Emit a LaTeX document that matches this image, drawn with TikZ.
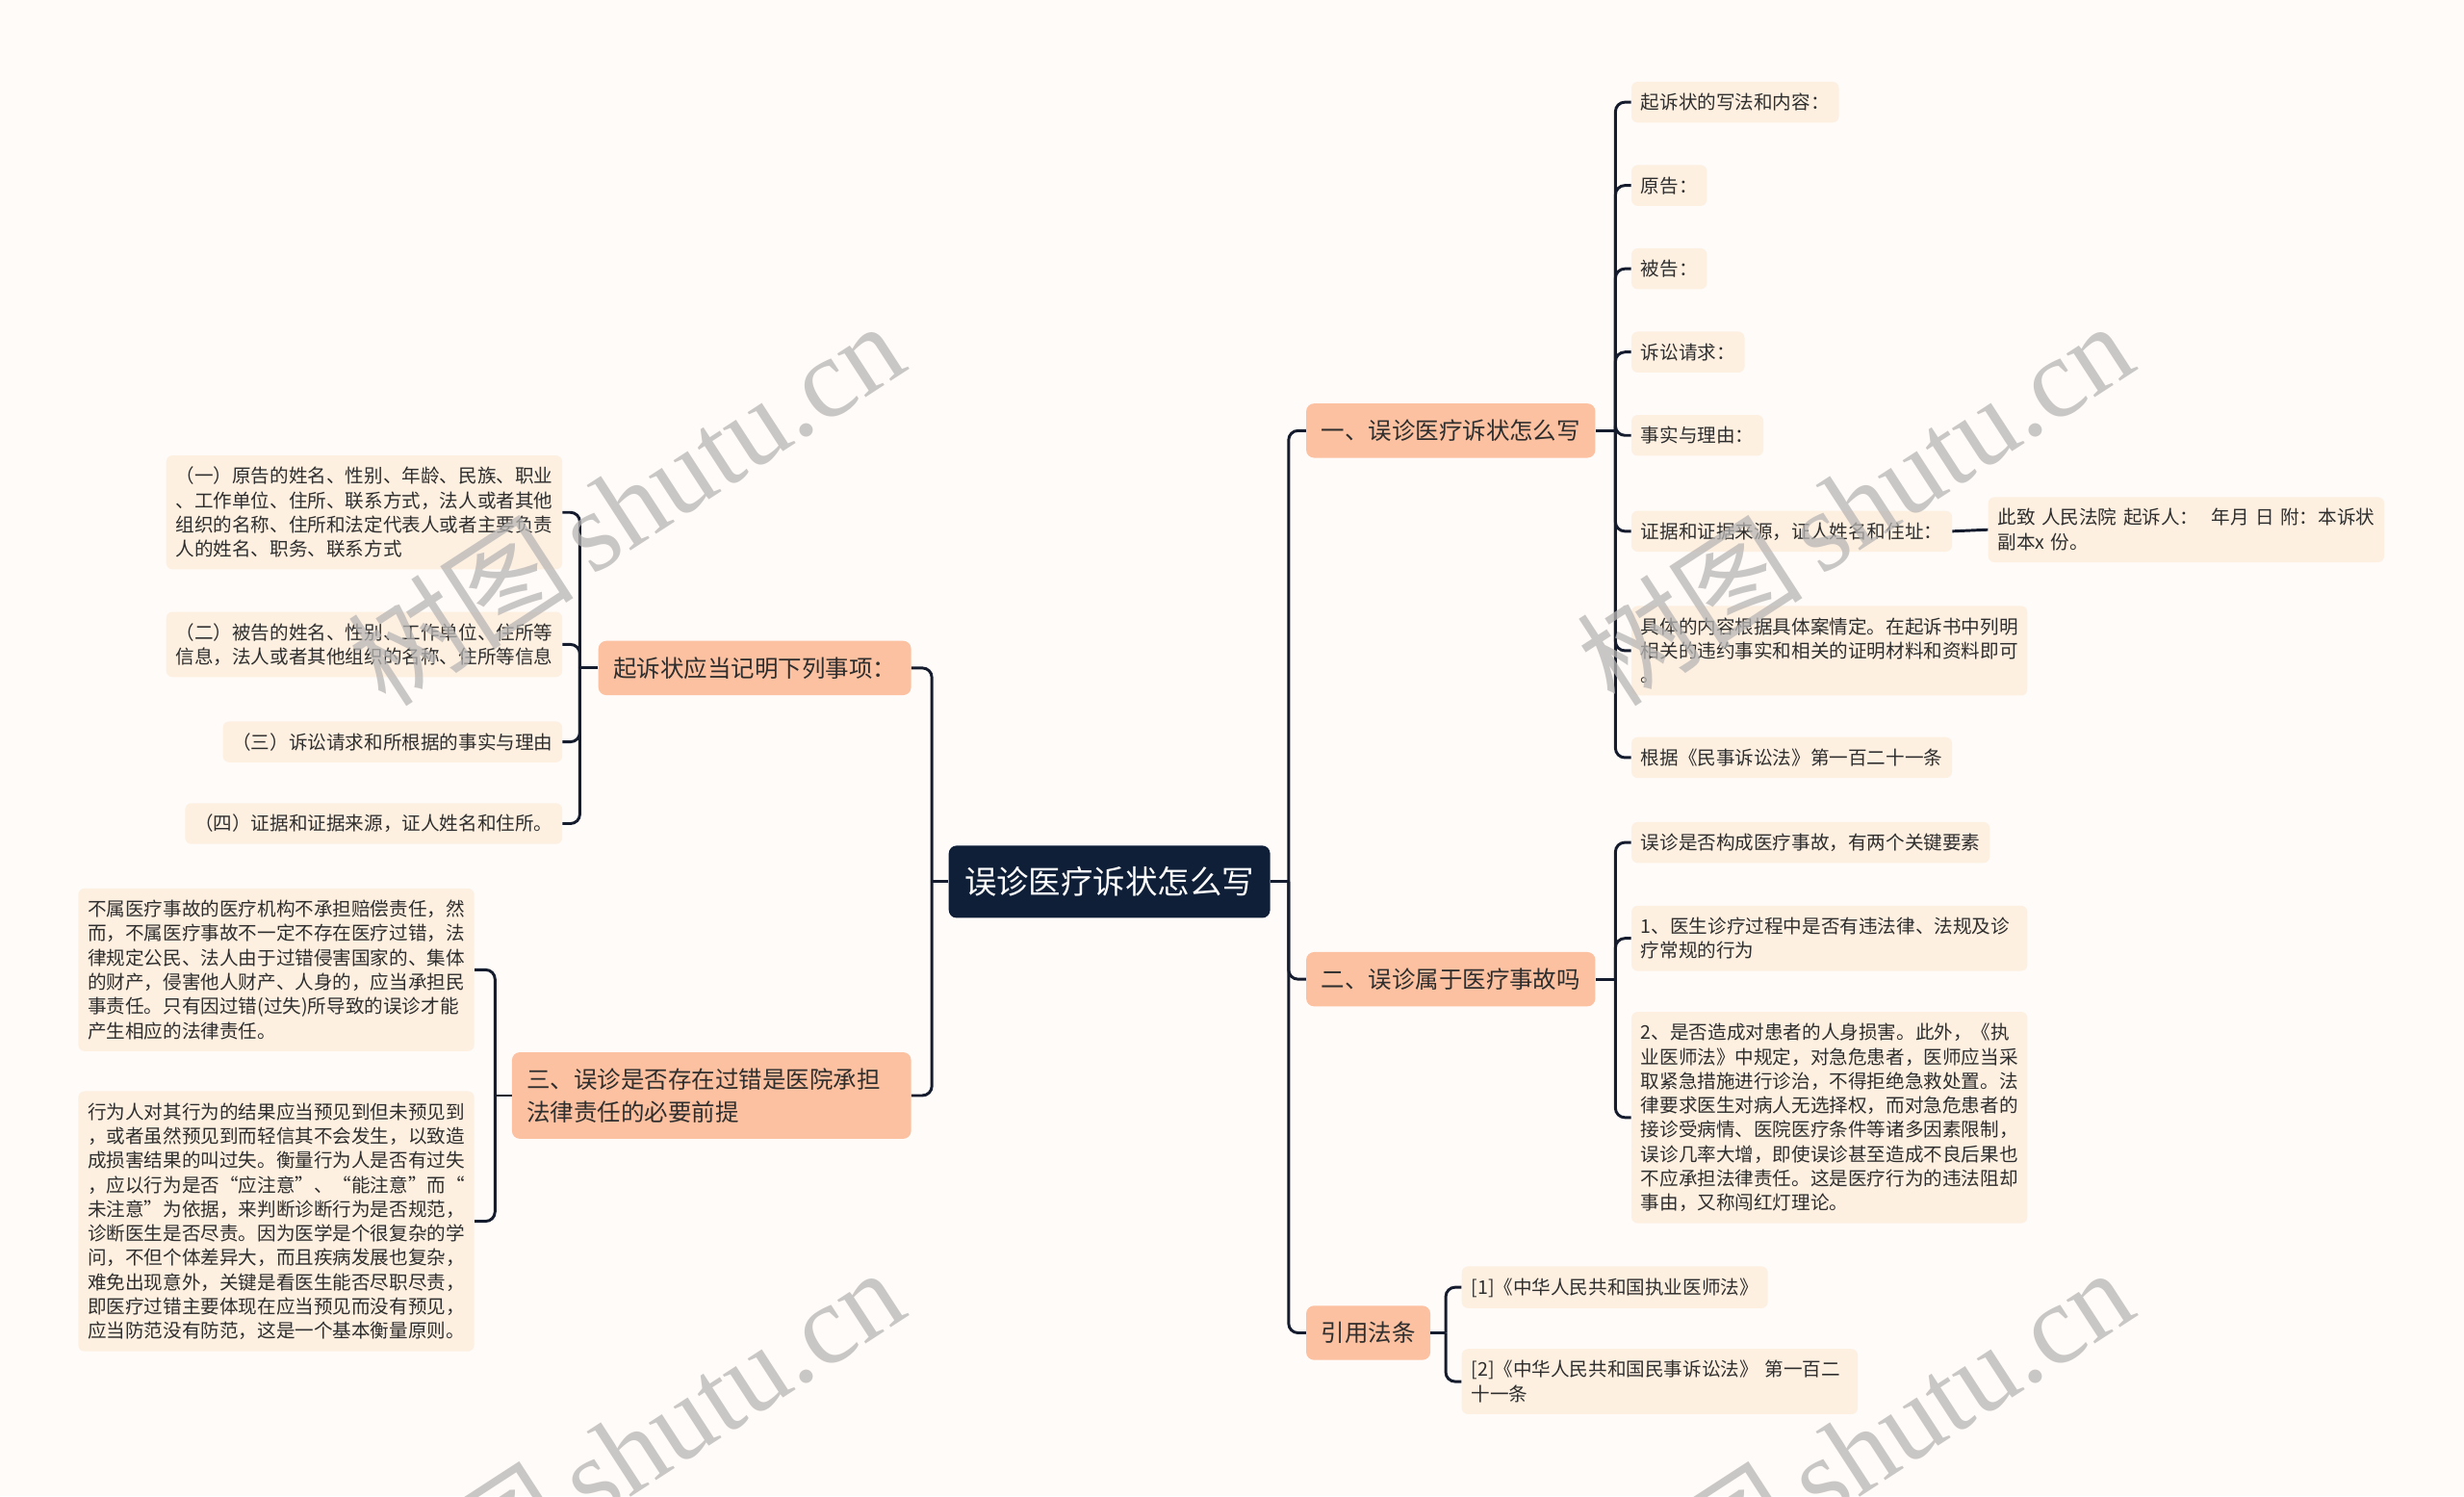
\documentclass[tikz,border=0pt]{standalone}
\usepackage{fontspec}
\setmainfont{Noto Sans CJK SC}
\newfontfamily\wmfont{Liberation Serif}

\definecolor{bgcol}{HTML}{FFFBF9}
\definecolor{rootcol}{HTML}{0F1F38}
\definecolor{topcol}{HTML}{FCC1A0}
\definecolor{leafcol}{HTML}{FEF0E1}
\definecolor{linecol}{HTML}{141C2E}
\definecolor{txtcol}{HTML}{2E2E2E}
\definecolor{wmcol}{HTML}{B8B6B4}

\newcommand\strutS{\leavevmode\vrule height 10.56pt depth 1.44pt width 0pt}
\newcommand\strutM{\leavevmode\vrule height 13.2pt depth 1.8pt width 0pt}

\tikzset{
  link/.style={draw=linecol, line width=1.8pt, rounded corners=6pt},
  rootnode/.style={fill=rootcol, text=white, rounded corners=5pt,
    inner xsep=10pt, inner ysep=12.75pt, font=\fontsize{20.5}{24}\selectfont,
    text height=18pt, text depth=2.5pt},
  topic/.style={fill=topcol, text=txtcol, rounded corners=5pt,
    inner xsep=9.5pt, inner ysep=9.75pt, font=\fontsize{15}{20.5}\selectfont,
    align=left, execute at begin node=\strutM, execute at end node=\strutM},
  leaf/.style={fill=leafcol, text=txtcol, rounded corners=4pt,
    inner xsep=6pt, inner ysep=7pt, font=\fontsize{12}{15.5}\selectfont,
    align=left, execute at begin node=\strutS, execute at end node=\strutS},
  wide/.style={text width=240pt},
  wmark/.style={text=wmcol, opacity=0.75, rotate=33, inner sep=0pt,
    font=\fontsize{72}{72}\selectfont},
}

\begin{document}
\begin{tikzpicture}[x=1pt,y=-1pt]
  \fill[bgcol] (0,0) rectangle (1568,952);
  \useasboundingbox (0,0) rectangle (1568,952);

  % centre
  \node[rootnode] (root) at (706,561) {误诊医疗诉状怎么写};

  % right side topics
  \node[topic,anchor=west] (t1) at (831,274) {一、误诊医疗诉状怎么写};
  \node[topic,anchor=west] (t2) at (831,623) {二、误诊属于医疗事故吗};
  \node[topic,anchor=west] (t4) at (831,848) {引用法条};
  % left side topics
  \node[topic,anchor=east] (t0) at (580,425) {起诉状应当记明下列事项：};
  \node[topic,anchor=east,text width=235pt] (t3) at (580,697)
    {三、误诊是否存在过错是医院承担\\法律责任的必要前提};

  % under t1
  \node[leaf,anchor=west] (a1) at (1038,65) {起诉状的写法和内容：};
  \node[leaf,anchor=west] (a2) at (1038,118) {原告：};
  \node[leaf,anchor=west] (a3) at (1038,171) {被告：};
  \node[leaf,anchor=west] (a4) at (1038,224) {诉讼请求：};
  \node[leaf,anchor=west] (a5) at (1038,277) {事实与理由：};
  \node[leaf,anchor=west] (a6) at (1038,338) {证据和证据来源，证人姓名和住址：};
  \node[leaf,anchor=west,wide] (a6x) at (1265,337)
    {此致 人民法院 起诉人：\ \ 年月 日 附：本诉状\\副本x 份。};
  \node[leaf,anchor=west,wide] (a7) at (1038,414)
    {具体的内容根据具体案情定。在起诉书中列明\\相关的违约事实和相关的证明材料和资料即可\\。};
  \node[leaf,anchor=west] (a8) at (1038,482) {根据《民事诉讼法》第一百二十一条};

  % under t2
  \node[leaf,anchor=west] (b1) at (1038,536) {误诊是否构成医疗事故，有两个关键要素};
  \node[leaf,anchor=west,wide] (b2) at (1038,597)
    {1、医生诊疗过程中是否有违法律、法规及诊\\疗常规的行为};
  \node[leaf,anchor=west,wide] (b3) at (1038,711)
    {2、是否造成对患者的人身损害。此外，《执\\业医师法》中规定，对急危患者，医师应当采\\取紧急措施进行诊治，不得拒绝急救处置。法\\律要求医生对病人无选择权，而对急危患者的\\接诊受病情、医院医疗条件等诸多因素限制，\\误诊几率大增，即使误诊甚至造成不良后果也\\不应承担法律责任。这是医疗行为的违法阻却\\事由，又称闯红灯理论。};

  % under t4
  \node[leaf,anchor=west] (d1) at (930,819) {[1]《中华人民共和国执业医师法》};
  \node[leaf,anchor=west,wide] (d2) at (930,879)
    {[2]《中华人民共和国民事诉讼法》~第一百二\\十一条};

  % under t0
  \node[leaf,anchor=east,wide] (e1) at (358,326)
    {（一）原告的姓名、性别、年龄、民族、职业\\、工作单位、住所、联系方式，法人或者其他\\组织的名称、住所和法定代表人或者主要负责\\人的姓名、职务、联系方式};
  \node[leaf,anchor=east,wide] (e2) at (358,410)
    {（二）被告的姓名、性别、工作单位、住所等\\信息，法人或者其他组织的名称、住所等信息};
  \node[leaf,anchor=east] (e3) at (358,472) {（三）诉讼请求和所根据的事实与理由};
  \node[leaf,anchor=east] (e4) at (358,524) {（四）证据和证据来源，证人姓名和住所。};

  % under t3
  \node[leaf,anchor=east,wide] (f1) at (302,617)
    {不属医疗事故的医疗机构不承担赔偿责任，然\\而，不属医疗事故不一定不存在医疗过错，法\\律规定公民、法人由于过错侵害国家的、集体\\的财产，侵害他人财产、人身的，应当承担民\\事责任。只有因过错(过失)所导致的误诊才能\\产生相应的法律责任。};
  \node[leaf,anchor=east,wide] (f2) at (302,777)
    {行为人对其行为的结果应当预见到但未预见到\\，或者虽然预见到而轻信其不会发生，以致造\\成损害结果的叫过失。衡量行为人是否有过失\\，应以行为是否“应注意”、“能注意”而“\\未注意”为依据，来判断诊断行为是否规范，\\诊断医生是否尽责。因为医学是个很复杂的学\\问，不但个体差异大，而且疾病发展也复杂，\\难免出现意外，关键是看医生能否尽职尽责，\\即医疗过错主要体现在应当预见而没有预见，\\应当防范没有防范，这是一个基本衡量原则。};

  % junctions
  \coordinate (jr) at (820,561);
  \coordinate (jl) at (593,561);
  \coordinate (j1) at (1028,274);
  \coordinate (j2) at (1028,623);
  \coordinate (j4) at (920,848);
  \coordinate (j0) at (369,425);
  \coordinate (j3) at (315,697);

  \draw[link] (root.east) -- (jr);
  \draw[link] (root.west) -- (jl);
  \foreach \n in {t1,t2,t4} \draw[link] (jr) |- (\n.west);
  \foreach \n in {t0,t3} \draw[link] (jl) |- (\n.east);

  \draw[link] (t1.east) -- (j1);
  \foreach \n in {a1,a2,a3,a4,a5,a6,a7,a8} \draw[link] (j1) |- (\n.west);
  \draw[link] (a6.east) -- (a6x.west);
  \draw[link] (t2.east) -- (j2);
  \foreach \n in {b1,b2,b3} \draw[link] (j2) |- (\n.west);
  \draw[link] (t4.east) -- (j4);
  \foreach \n in {d1,d2} \draw[link] (j4) |- (\n.west);
  \draw[link] (t0.west) -- (j0);
  \foreach \n in {e1,e2,e3,e4} \draw[link] (j0) |- (\n.east);
  \draw[link] (t3.west) -- (j3);
  \foreach \n in {f1,f2} \draw[link] (j3) |- (\n.east);

  % watermark
  \begin{scope}
    \clip (0,0) rectangle (1568,952);
    \node[wmark] (wm1) at (398,320) {树图\,\wmfont shutu.cn};
    \node[wmark] (wm2) at (1180,320) {树图\,\wmfont shutu.cn};
    \node[wmark] (wm3) at (398,922) {树图\,\wmfont shutu.cn};
    \node[wmark] (wm4) at (1180,922) {树图\,\wmfont shutu.cn};
  \end{scope}
\end{tikzpicture}
\end{document}
